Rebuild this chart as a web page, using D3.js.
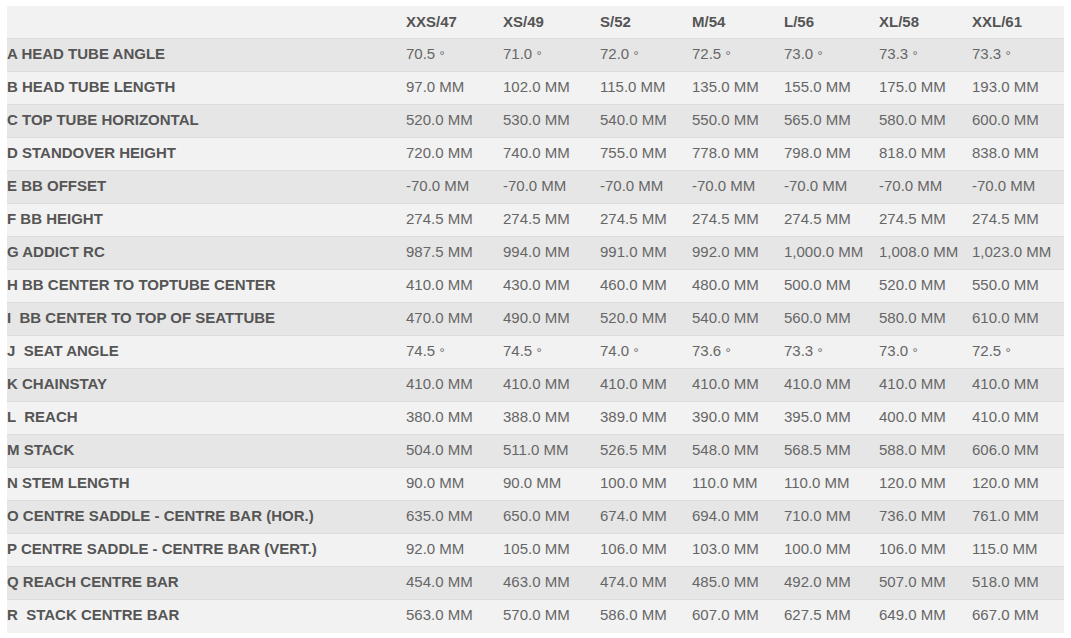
<!DOCTYPE html>
<html>
<head>
<meta charset="utf-8">
<script src="https://cdn.jsdelivr.net/npm/d3@7"></script>
<style>
  body { margin: 0; background: #fff; }
  svg text { font-family: "Liberation Sans", Arial, sans-serif; font-size: 15px; }
</style>
</head>
<body>
<svg id="viz_area" width="1071" height="638"></svg>
<script>
// sizes (column headers)
var sizes = ["XXS/47", "XS/49", "S/52", "M/54", "L/56", "XL/58", "XXL/61"]

// row labels
var labels = [
  "A HEAD TUBE ANGLE", "B HEAD TUBE LENGTH", "C TOP TUBE HORIZONTAL", "D STANDOVER HEIGHT",
  "E BB OFFSET", "F BB HEIGHT", "G ADDICT RC", "H BB CENTER TO TOPTUBE CENTER",
  "I  BB CENTER TO TOP OF SEATTUBE", "J  SEAT ANGLE", "K CHAINSTAY", "L  REACH", "M STACK",
  "N STEM LENGTH", "O CENTRE SADDLE - CENTRE BAR (HOR.)", "P CENTRE SADDLE - CENTRE BAR (VERT.)",
  "Q REACH CENTRE BAR", "R  STACK CENTRE BAR"
]

// unit per row: deg or mm
var units = ["deg", "mm", "mm", "mm", "mm", "mm", "mm", "mm", "mm", "deg", "mm", "mm", "mm", "mm", "mm", "mm", "mm", "mm"]

// values per row, one per size
var values = [
  [70.5, 71.0, 72.0, 72.5, 73.0, 73.3, 73.3],
  [97, 102, 115, 135, 155, 175, 193],
  [520, 530, 540, 550, 565, 580, 600],
  [720, 740, 755, 778, 798, 818, 838],
  [-70, -70, -70, -70, -70, -70, -70],
  [274.5, 274.5, 274.5, 274.5, 274.5, 274.5, 274.5],
  [987.5, 994, 991, 992, 1000, 1008, 1023],
  [410, 430, 460, 480, 500, 520, 550],
  [470, 490, 520, 540, 560, 580, 610],
  [74.5, 74.5, 74.0, 73.6, 73.3, 73.0, 72.5],
  [410, 410, 410, 410, 410, 410, 410],
  [380, 388, 389, 390, 395, 400, 410],
  [504, 511, 526.5, 548, 568.5, 588, 606],
  [90, 90, 100, 110, 110, 120, 120],
  [635, 650, 674, 694, 710, 736, 761],
  [92, 105, 106, 103, 100, 106, 115],
  [454, 463, 474, 485, 492, 507, 518],
  [563, 570, 586, 607, 627.5, 649, 667]
]

var svg = d3.select("#viz_area")
var tblLeft = 7, tblRight = 1064, tblTop = 6, rowH = 33
var labelW = 399
// table column widths for size columns (auto-layout look)
var colW = [97, 97, 92, 92, 95, 93, 92]
var colX = []
colW.reduce(function (acc, w) { colX.push(acc); return acc + w }, tblLeft + labelW)

var x = d3.scaleOrdinal().domain(sizes).range(colX)
var y = d3.scaleBand().domain(d3.range(labels.length + 1)).range([tblTop, tblTop + rowH * (labels.length + 1)])

// plain hyphen for negatives, like the site
var fmt = d3.formatLocale({ decimal: ".", thousands: ",", grouping: [3], currency: ["", ""], minus: "-" }).format(",.1f")

// backgrounds
svg.selectAll("rect.row").data(d3.range(labels.length + 1)).enter().append("rect")
  .attr("class", "row")
  .attr("x", tblLeft).attr("width", tblRight - tblLeft)
  .attr("y", function (d) { return y(d) }).attr("height", y.bandwidth())
  .style("fill", function (d) { return d % 2 === 1 ? "#e6e6e6" : "#f2f2f2" })

// separators
svg.selectAll("line.sep").data(d3.range(1, labels.length + 1)).enter().append("line")
  .attr("x1", tblLeft).attr("x2", tblRight)
  .attr("y1", function (d) { return y(d) - 0.5 }).attr("y2", function (d) { return y(d) - 0.5 })
  .style("stroke", "#dcdcdc")

// header
svg.selectAll("text.head").data(sizes).enter().append("text")
  .attr("x", function (d) { return x(d) })
  .attr("y", y(0) + 21)
  .style("font-weight", "bold").style("fill", "#555")
  .text(function (d) { return d })

var rows = svg.selectAll("g.r").data(labels).enter().append("g")
  .attr("transform", function (d, i) { return "translate(0," + (y(i + 1) + 20) + ")" })

rows.append("text")
  .attr("x", tblLeft)
  .style("font-weight", "bold").style("fill", "#555")
  .style("white-space", "pre")
  .text(function (d) { return d })

var cells = rows.selectAll("text.v").data(function (d, i) {
  return values[i].map(function (v, j) { return { v: v, u: units[i], s: sizes[j] } })
}).enter().append("text")
  .attr("class", "v")
  .attr("x", function (d) { return x(d.s) })
  .style("fill", "#666")

cells.append("tspan").text(function (d) { return d.u === "deg" ? fmt(d.v) + " " : fmt(d.v) + " MM" })
cells.filter(function (d) { return d.u === "deg" }).append("tspan")
  .attr("dy", 1).style("font-size", "13px")
  .text("\u00b0")
</script>
</body>
</html>
